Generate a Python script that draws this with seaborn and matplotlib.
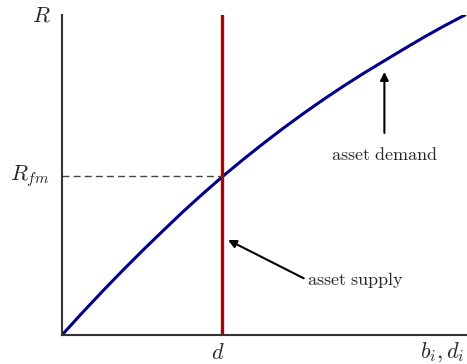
import numpy as np
import pandas as pd
import matplotlib
matplotlib.use("Agg")
import matplotlib.pyplot as plt
import seaborn as sns

# demand curve
b = [0.0, 0.05, 0.1, 0.15, 0.2, 0.25, 0.3, 0.35, 0.4, 0.45, 0.5,
     0.55, 0.6, 0.65, 0.7, 0.75, 0.8, 0.85, 0.9, 0.95, 1.0]
R = [0.0, 0.069, 0.136, 0.201, 0.264, 0.325, 0.385, 0.442, 0.497, 0.549, 0.599,
     0.647, 0.693, 0.737, 0.779, 0.819, 0.857, 0.895, 0.932, 0.967, 1.0]
d_supply = 0.397
R_fm = 0.497

sns.set_style("white")
plt.rcParams["mathtext.fontset"] = "cm"
plt.rcParams["font.family"] = ["DejaVu Serif"]

fig = plt.figure(figsize=(4.67, 3.64), dpi=100)
ax = fig.add_axes([62 / 467, 29 / 364, 405 / 467, 320 / 364])

demand = pd.DataFrame({"b": b, "R": R})
sns.lineplot(x="b", y="R", data=demand, ax=ax, color="#00008b", lw=2.2)
ax.axvline(d_supply, color="#b00000", lw=2.4)
ax.plot([0, d_supply], [R_fm, R_fm], ls=(0, (5, 3)), color="#444444", lw=1)

ax.set_xlim(0, 1.005)
ax.set_ylim(0, 1)
ax.set_xticks([])
ax.set_yticks([])
ax.set_xlabel("")
ax.set_ylabel("")
for s in ["top", "right"]:
    ax.spines[s].set_visible(False)
for s in ["left", "bottom"]:
    ax.spines[s].set_color("#333333")
    ax.spines[s].set_linewidth(1.5)

fs = 16
ax.text(-0.028, 1.0, r"$R$", ha="right", va="center", fontsize=fs)
ax.text(-0.03, R_fm, r"$R_{fm}$", ha="right", va="center", fontsize=fs)
ax.text(d_supply - 0.01, -0.055, r"$d$", ha="center", va="center", fontsize=fs)
ax.text(1.0, -0.055, r"$b_i, d_i$", ha="right", va="center", fontsize=fs)

ax.annotate(r"$\mathrm{asset\ demand}$", xy=(0.8, 0.822), xytext=(0.8, 0.5625),
            ha="center", va="center", fontsize=13,
            arrowprops=dict(arrowstyle="-|>", color="black", lw=1.5,
                            mutation_scale=12, shrinkA=7, shrinkB=0))
ax.annotate(r"$\mathrm{asset\ supply}$", xy=(0.412, 0.297), xytext=(0.608, 0.172),
            ha="left", va="center", fontsize=13,
            arrowprops=dict(arrowstyle="-|>", color="black", lw=1.5,
                            mutation_scale=12, shrinkA=0, shrinkB=0,
                            relpos=(0, 0.5)))

fig.savefig("out.png", dpi=100)
